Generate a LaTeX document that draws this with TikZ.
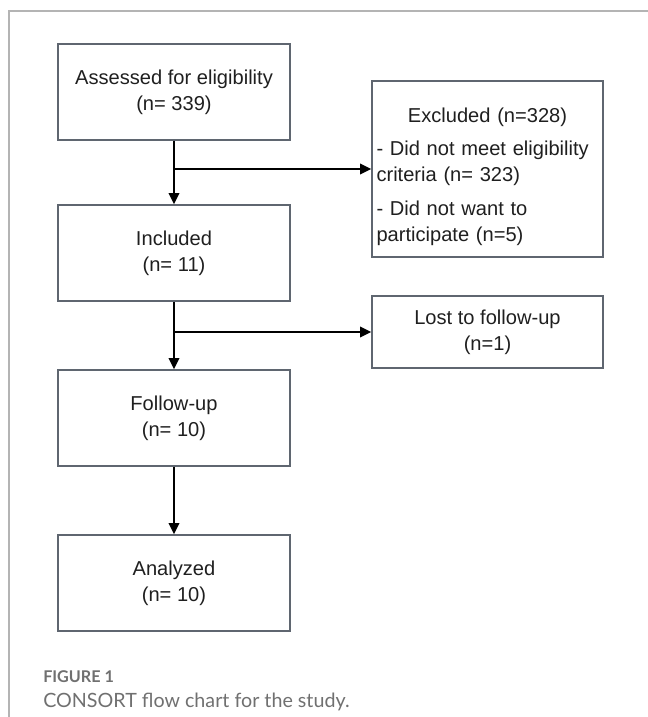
\documentclass[tikz,border=0pt]{standalone}
\usepackage{fontspec}
\setmainfont{Liberation Sans}
\newfontfamily\captionfont{Lato}
\usetikzlibrary{arrows.meta}
\definecolor{boxline}{RGB}{95,102,112}
\definecolor{frameline}{RGB}{180,180,180}
\definecolor{captiongray}{RGB}{112,112,112}

\begin{document}
\begin{tikzpicture}[
		stagebox/.style={draw=boxline,line width=0.9pt,minimum width=5.8cm,minimum height=2.4cm,align=center,text=black!88,font=\fontsize{14.3}{18.5}\selectfont},
		sidebox/.style={stagebox,minimum width=5.775cm},
		flowarrow/.style={line width=1.5pt,-{Triangle[length=0.28cm,width=0.26cm]}}
	]
		\useasboundingbox (0,0) rectangle (16.2,-17.925);
		\draw[frameline,line width=1pt] (16.2,-0.275) -- (0.225,-0.275) -- (0.225,-17.925);
		\node[stagebox] (assessed) at (4.35,-2.3) {Assessed for eligibility\\(n= 339)};
		\node[stagebox] (included) at (4.35,-6.325) {Included\\(n= 11)};
		\node[stagebox] (followup) at (4.35,-10.45) {Follow-up\\(n= 10)};
		\node[stagebox] (analyzed) at (4.35,-14.575) {Analyzed\\(n= 10)};
		\node[sidebox,minimum height=4.4cm,text width=5.55cm,align=left,inner xsep=0.1cm] (excluded) at (12.1875,-4.225) {\rule{0pt}{0.75cm}\makebox[5.55cm]{Excluded (n=328)}\\[5pt]- Did not meet eligibility\\criteria (n= 323)\\[6pt]- Did not want to\\participate (n=5)};
		\node[sidebox,minimum height=1.8cm] (lost) at (12.1875,-8.3) {Lost to follow-up\\(n=1)};
		\draw[flowarrow] (assessed.south) -- (included.north);
		\draw[flowarrow] (assessed.south |- excluded.west) -- (excluded.west);
		\draw[flowarrow] (included.south) -- (followup.north);
		\draw[flowarrow] (included.south |- lost.west) -- (lost.west);
		\draw[flowarrow] (followup.south) -- (analyzed.north);
		\node[anchor=base west,inner sep=0,text=captiongray,font=\captionfont\bfseries\fontsize{11.5}{13}\selectfont] (figlabel) at (1.075,-17.05) {FIGURE 1};
		\node[anchor=base west,inner sep=0,text=captiongray,font=\captionfont\fontsize{14}{17}\selectfont] (figcaption) at (1.075,-17.68) {CONSORT flow chart for the study.};
	\end{tikzpicture}
\end{document}
